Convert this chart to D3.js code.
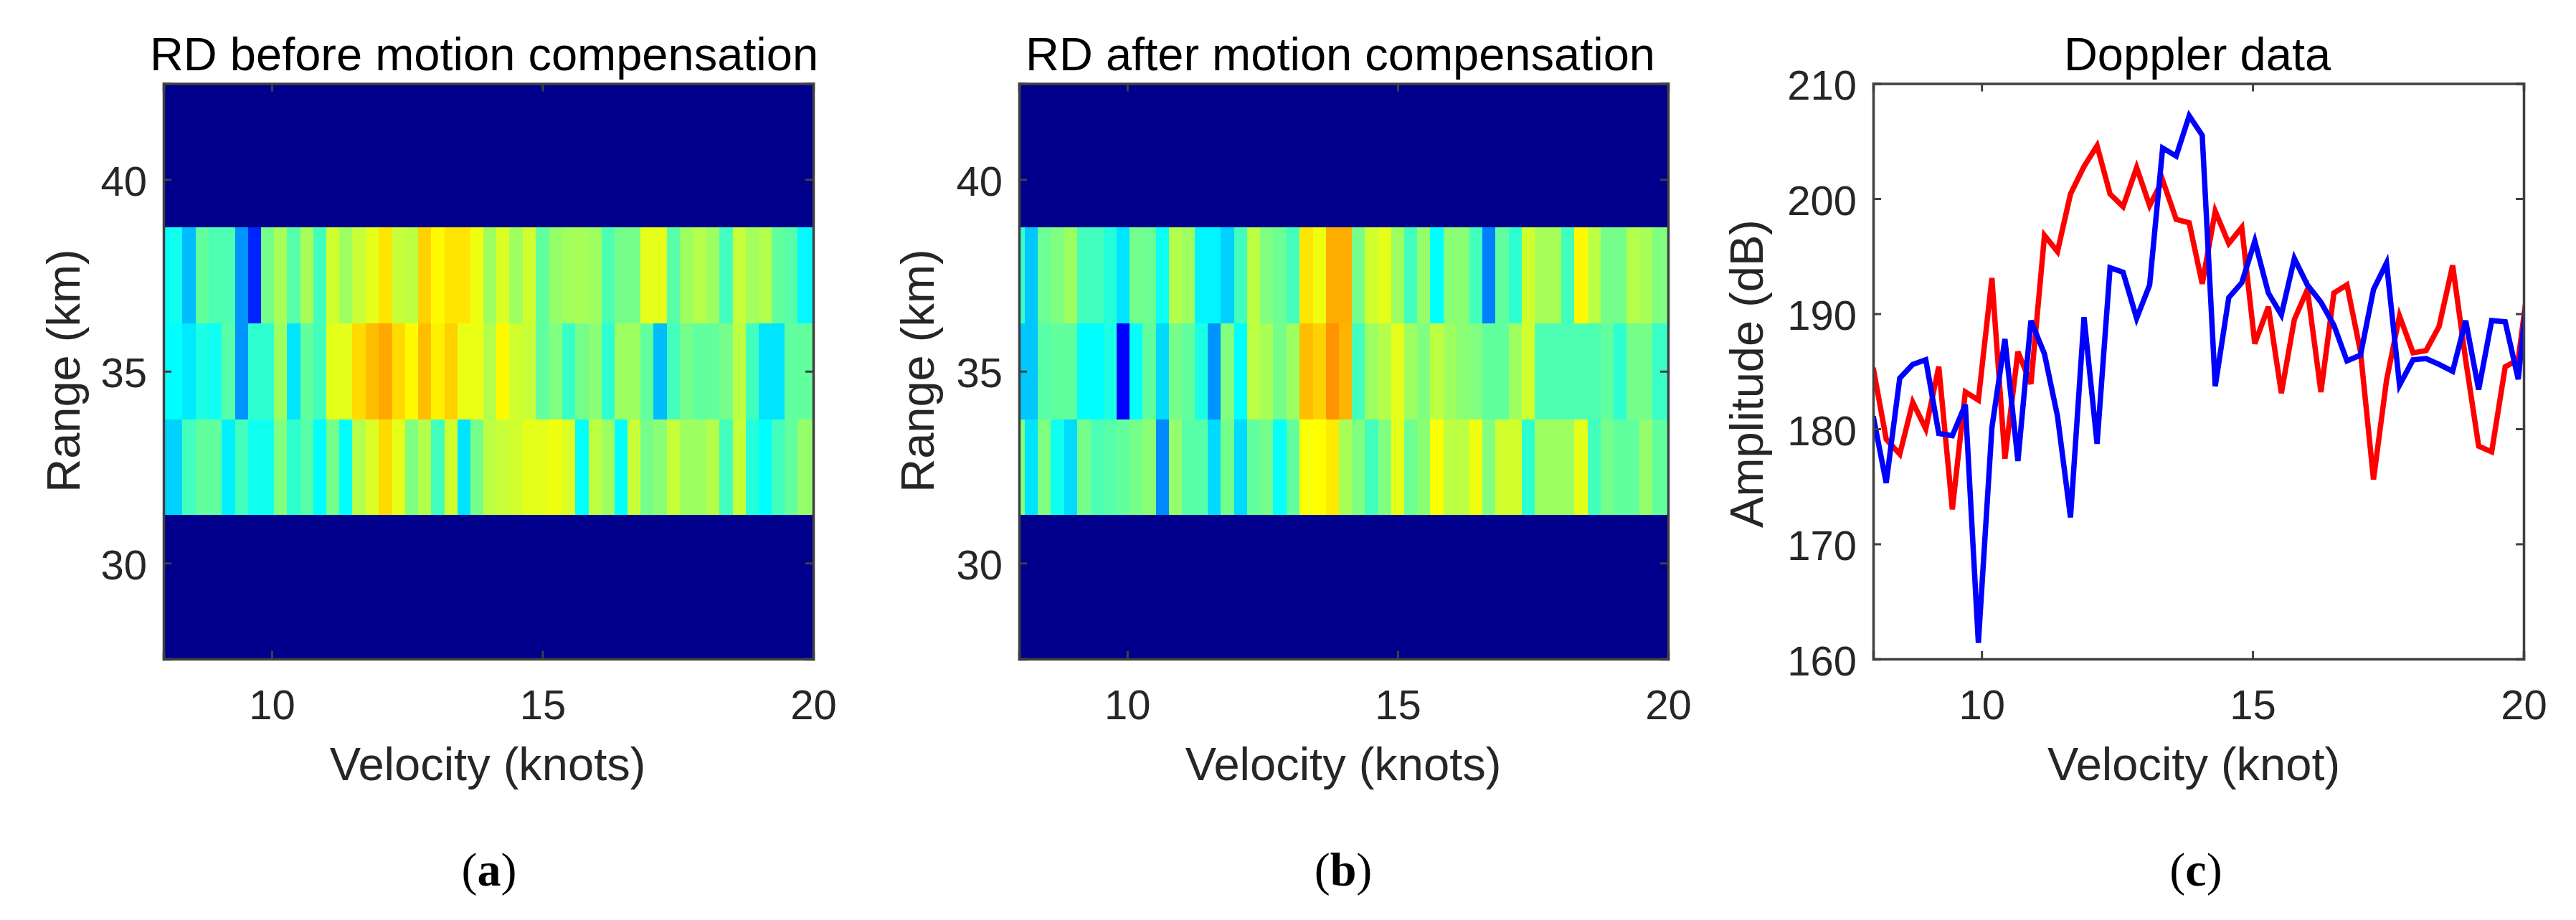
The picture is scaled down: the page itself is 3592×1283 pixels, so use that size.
<!DOCTYPE html>
<html>
<head>
<meta charset="utf-8">
<title>Doppler panels</title>
<script src="https://cdn.jsdelivr.net/npm/d3@7"></script>
<style>
    html, body { margin: 0; padding: 0; background: #fff; }
    svg { display: block; }
    text { font-family: "Liberation Sans", Arial, sans-serif; }
</style>
</head>
<body>
<svg id="chart" width="3592" height="1283"></svg>
<script>
// velocity tick labels and range tick labels
const velocityTicks = [10, 15, 20];
const rangeTicks = [30, 35, 40];
const amplitudeTicks = [160, 170, 180, 190, 200, 210];

// range bin edges (km), only the middle three bins hold signal
const rangeEdges = [31.25, 33.75, 36.25, 38.75];

// doppler bin edges (knots), 50 columns in the heatmaps
const cellEdges = [
    8, 8.11, 8.35, 8.59, 8.83, 9.07, 9.32, 9.56, 9.80, 10.04,
    10.28, 10.53, 10.77, 11.01, 11.25, 11.49, 11.73, 11.98, 12.22, 12.46,
    12.70, 12.94, 13.19, 13.43, 13.67, 13.91, 14.15, 14.39, 14.64, 14.88,
    15.12, 15.36, 15.60, 15.85, 16.09, 16.33, 16.57, 16.81, 17.05, 17.30,
    17.54, 17.78, 18.02, 18.26, 18.51, 18.75, 18.99, 19.23, 19.47, 19.71, 20
];

// colour levels (0 = bottom of jet, 1 = top)
const floorLevel = 0.012;

const beforeLow = [
    .33, .33, .44, .47, .47, .36, .44, .39, .39, .50,
    .42, .46, .375, .49, .375, .55, .59, .66, .60, .50,
    .55, .44, .58, .35, .49, .56, .57, .58, .60, .60,
    .61, .59, .38, .56, .53, .375, .57, .49, .51, .57,
    .53, .53, .55, .44, .57, .41, .375, .44, .47, .52
];
const beforeMid = [
    .375, .375, .355, .40, .39, .46, .27, .42, .42, .53,
    .35, .47, .44, .60, .60, .66, .69, .71, .66, .63,
    .69, .64, .67, .605, .605, .55, .63, .58, .57, .47,
    .50, .43, .49, .51, .42, .53, .53, .47, .31, .44,
    .49, .47, .47, .49, .56, .44, .35, .35, .47, .47
];
const beforeHigh = [
    .38, .39, .31, .47, .45, .45, .27, .16, .49, .54,
    .46, .54, .44, .58, .53, .57, .60, .65, .57, .56,
    .67, .63, .65, .65, .61, .53, .59, .53, .58, .47,
    .52, .535, .54, .53, .45, .49, .49, .60, .60, .46,
    .53, .55, .53, .44, .57, .535, .55, .47, .46, .37
];

const afterLow = [
    .50, .35, .50, .39, .34, .49, .45, .46, .47, .49,
    .51, .26, .52, .46, .46, .34, .49, .34, .47, .49,
    .38, .47, .62, .625, .645, .54, .50, .44, .50, .60,
    .48, .51, .62, .56, .56, .61, .50, .58, .58, .42,
    .53, .53, .53, .60, .44, .49, .47, .47, .52, .47
];
const afterMid = [
    .32, .32, .46, .47, .47, .375, .375, .40, .125, .38,
    .47, .34, .49, .47, .40, .27, .50, .375, .56, .54,
    .49, .53, .69, .67, .73, .70, .44, .53, .55, .60,
    .53, .50, .56, .53, .51, .50, .47, .47, .53, .58,
    .45, .45, .45, .45, .45, .47, .42, .49, .49, .43
];
const afterHigh = [
    .43, .32, .48, .50, .53, .44, .44, .41, .35, .49,
    .48, .385, .55, .53, .365, .365, .33, .44, .56, .50,
    .48, .44, .65, .61, .705, .705, .49, .58, .60, .53,
    .44, .52, .375, .51, .51, .44, .25, .47, .42, .58,
    .54, .54, .44, .63, .56, .49, .49, .55, .54, .50
];

// doppler profile: the last sample sits just past the axis limit and gets clipped
const velocity = [
    8.00, 8.24, 8.49, 8.73, 8.97, 9.21, 9.46, 9.70, 9.94, 10.19,
    10.43, 10.67, 10.91, 11.16, 11.40, 11.64, 11.89, 12.13, 12.37, 12.61,
    12.86, 13.10, 13.34, 13.59, 13.83, 14.07, 14.31, 14.56, 14.80, 15.04,
    15.29, 15.53, 15.77, 16.01, 16.26, 16.50, 16.74, 16.99, 17.23, 17.47,
    17.71, 17.96, 18.20, 18.44, 18.69, 18.93, 19.17, 19.41, 19.66, 19.90, 20.14
];
const redAmplitude = [
    185.3, 179.1, 177.8, 182.3, 180.0, 185.4, 173.0, 183.2, 182.5, 193.1,
    177.4, 186.7, 183.9, 196.8, 195.4, 200.4, 202.8, 204.6, 200.4, 199.3,
    202.7, 199.4, 201.6, 198.2, 197.9, 192.6, 198.9, 196.1, 197.5, 187.4,
    190.6, 183.1, 189.5, 192.1, 183.2, 191.8, 192.5, 186.7, 175.6, 184.2,
    189.8, 186.6, 186.8, 188.9, 194.2, 186.0, 178.5, 178.0, 185.4, 186.0, 194.7
];
const blueAmplitude = [
    181.1, 175.3, 184.4, 185.6, 186.0, 179.6, 179.4, 182.1, 161.4, 180.1,
    187.8, 177.2, 189.4, 186.5, 181.1, 172.3, 189.7, 178.7, 194.0, 193.6,
    189.6, 192.5, 204.4, 203.7, 207.2, 205.5, 183.7, 191.4, 192.7, 196.3,
    191.8, 189.9, 194.8, 192.5, 191.0, 189.0, 185.9, 186.4, 192.1, 194.4,
    183.8, 186.0, 186.1, 185.6, 185.0, 189.4, 183.4, 189.4, 189.3, 184.3, 195.2
];

// page layout
const plotTop = 116.5;
const plotBottom = 919;
const axisColor = "#404040";
const textColor = "#262626";

const svg = d3.select("#chart");
svg.append("rect").attr("width", 3592).attr("height", 1283).attr("fill", "#fff");

// jet colormap
const jet = d3.scaleLinear()
    .domain([0, 0.125, 0.375, 0.625, 0.875, 1])
    .range(["#000080", "#0000ff", "#00ffff", "#ffff00", "#ff0000", "#800000"])
    .clamp(true);

// box axes with inward ticks, labels only on left and bottom
function drawBox(x, y, xTicks, yTicks) {
    const inner = 11;
    const [x0, x1] = x.range();
    const axes = [
        { axis: d3.axisBottom(x).tickValues(xTicks).tickPadding(43), at: [0, plotBottom] },
        { axis: d3.axisTop(x).tickValues(xTicks).tickFormat(""), at: [0, plotTop] },
        { axis: d3.axisLeft(y).tickValues(yTicks).tickPadding(23), at: [x0, 0] },
        { axis: d3.axisRight(y).tickValues(yTicks).tickFormat(""), at: [x1, 0] }
    ];
    axes.forEach(d => {
        const g = svg.append("g")
            .attr("transform", `translate(${d.at[0]}, ${d.at[1]})`)
            .call(d.axis.tickSize(-inner));
        g.select(".domain")
            .attr("stroke", axisColor)
            .attr("stroke-width", 3.5);
        g.selectAll(".tick line")
            .attr("stroke", axisColor)
            .attr("stroke-width", 3);
        g.selectAll(".tick text")
            .attr("fill", textColor)
            .attr("font-family", "Liberation Sans")
            .attr("font-size", 58);
    });
    svg.selectAll(".tick text").filter(function() {
        return this.getAttribute("x") !== null && +this.getAttribute("x") < 0;
    }).attr("dy", "0.38em");
}

function addTitle(text, cx) {
    svg.append("text")
        .attr("x", cx)
        .attr("y", 98)
        .attr("text-anchor", "middle")
        .attr("font-size", 65)
        .attr("fill", "#000")
        .text(text);
}

function addXLabel(text, cx) {
    svg.append("text")
        .attr("x", cx)
        .attr("y", 1088)
        .attr("text-anchor", "middle")
        .attr("font-size", 65)
        .attr("fill", textColor)
        .text(text);
}

function addYLabel(text, baselineX, cy) {
    svg.append("text")
        .attr("transform", `translate(${baselineX}, ${cy}) rotate(-90)`)
        .attr("text-anchor", "middle")
        .attr("font-size", 65)
        .attr("fill", textColor)
        .text(text);
}

function addCaption(letter, cx) {
    const t = svg.append("text")
        .attr("x", cx)
        .attr("y", 1235)
        .attr("text-anchor", "middle")
        .attr("font-size", 66)
        .attr("fill", "#000")
        .style("font-family", "'Liberation Serif', serif");
    t.append("tspan").text("(");
    t.append("tspan").attr("font-weight", "bold").text(letter);
    t.append("tspan").text(")");
}

// range doppler heatmap, rows listed from low range to high range
function drawHeatmap(left, right, rows) {
    const x = d3.scaleLinear().domain([8, 20]).range([left, right]);
    const y = d3.scaleLinear().domain([27.5, 42.5]).range([plotBottom, plotTop]);
    const g = svg.append("g").attr("shape-rendering", "crispEdges");

    // empty range bins fill the whole plot first
    g.append("rect")
        .attr("x", x(8))
        .attr("y", y(42.5))
        .attr("width", x(20) - x(8))
        .attr("height", y(27.5) - y(42.5))
        .attr("fill", jet(floorLevel));

    rows.forEach((row, r) => {
        g.append("g").selectAll("rect")
            .data(row)
            .join("rect")
            .attr("x", (d, i) => x(cellEdges[i]))
            .attr("y", y(rangeEdges[r + 1]))
            .attr("width", (d, i) => x(cellEdges[i + 1]) - x(cellEdges[i]))
            .attr("height", y(rangeEdges[r]) - y(rangeEdges[r + 1]))
            .attr("fill", d => jet(d));
    });
    drawBox(x, y, velocityTicks, rangeTicks);
}

// amplitude against velocity, red first so blue stays on top
function drawProfile(left, right) {
    const x = d3.scaleLinear().domain([8, 20]).range([left, right]);
    const y = d3.scaleLinear().domain([160, 210]).range([plotBottom, plotTop]);

    svg.append("clipPath").attr("id", "profile-clip")
        .append("rect")
        .attr("x", left)
        .attr("y", plotTop)
        .attr("width", right - left)
        .attr("height", plotBottom - plotTop);

    const line = d3.line()
        .x((d, i) => x(velocity[i]))
        .y(d => y(d));

    const g = svg.append("g").attr("clip-path", "url(#profile-clip)");
    [[redAmplitude, "#ff0000"], [blueAmplitude, "#0000ff"]].forEach(([values, color]) => {
        g.append("path")
            .attr("d", line(values))
            .attr("fill", "none")
            .attr("stroke", color)
            .attr("stroke-width", 7.5)
            .attr("stroke-linejoin", "miter");
    });
    drawBox(x, y, velocityTicks, amplitudeTicks);
}

drawHeatmap(228, 1134, [beforeLow, beforeMid, beforeHigh]);
addTitle("RD before motion compensation", 675);
addXLabel("Velocity (knots)", 680);
addYLabel("Range (km)", 111, 517);
addCaption("a", 682);

drawHeatmap(1421, 2326, [afterLow, afterMid, afterHigh]);
addTitle("RD after motion compensation", 1869);
addXLabel("Velocity (knots)", 1873);
addYLabel("Range (km)", 1302, 517);
addCaption("b", 1873);

drawProfile(2612, 3519);
addTitle("Doppler data", 3064);
addXLabel("Velocity (knot)", 3059);
addYLabel("Amplitude (dB)", 2458, 521);
addCaption("c", 3062);
</script>
</body>
</html>
